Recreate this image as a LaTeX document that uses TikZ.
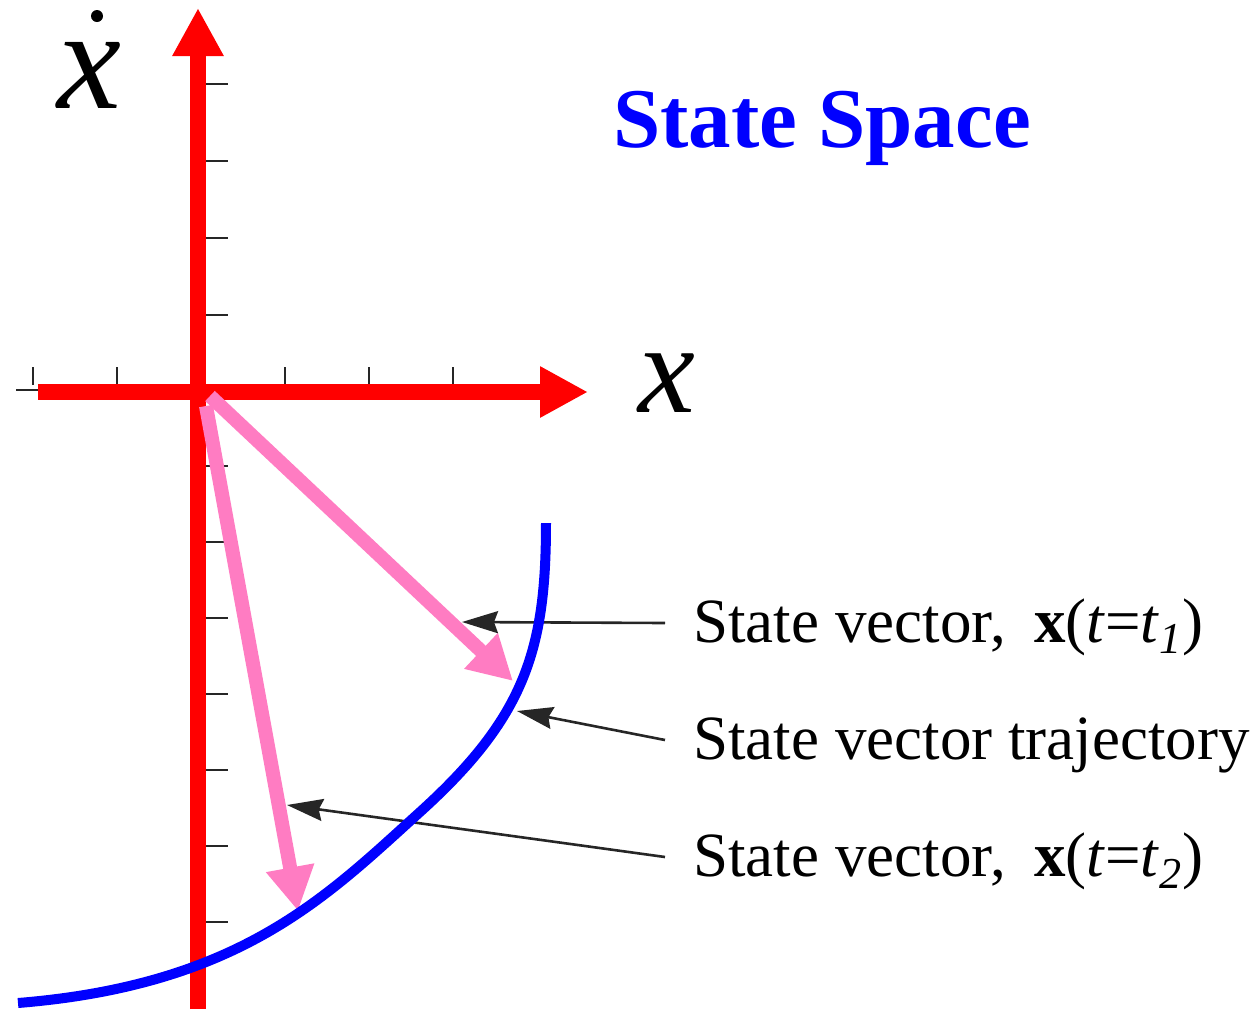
\documentclass[tikz,border=0pt]{standalone}
\usepackage{fontspec}
\setmainfont{Liberation Serif}
\usetikzlibrary{arrows.meta}
\definecolor{rouge}{RGB}{255,0,0}
\definecolor{rose}{RGB}{255,124,194}
\definecolor{bleu}{RGB}{0,0,255}

\begin{document}
\begin{tikzpicture}[x=0.5pt,y=-0.5pt,
  axe/.style={line width=8pt,rouge,-{Triangle[length=24pt,width=24pt]}},
  graduation/.style={line width=1.4pt,black!85},
  vecteur/.style={line width=7pt,rose,-{Triangle[length=22pt,width=23pt]}},
  fleche/.style={line width=1.3pt,black!85,-{Stealth[length=18pt,width=11pt,inset=2pt]}},
  legende/.style={anchor=base west,inner sep=0pt,font=\fontsize{31.5}{36}\selectfont}]
\useasboundingbox (0,0) rectangle (1255,1009);

%graduations
\foreach \x in {33,117,285,369,453} \draw[graduation] (\x,367) -- (\x,385);
\draw[graduation] (16,390) -- (38,390);
\foreach \y in {84,161,238,315,466,542,618,694,770,846,922} \draw[graduation] (206,\y) -- (228,\y);

%axes
\draw[axe] (38,392) -- (588,392);
\draw[axe] (198,1009) -- (198,8);
\node (xpt) [anchor=base,inner sep=0pt,text height=34pt,text depth=0pt] at (89,108) {\fontsize{72}{72}\selectfont\itshape x};
\fill (97,16) circle[radius=3pt]; %point de la derivee
\node (xlab) [anchor=base] at (667,412) {\fontsize{64}{64}\selectfont\itshape x};
\node (titre) [anchor=base,text=bleu,font=\fontsize{42.5}{48}\selectfont\bfseries] at (822,147) {State Space};

%vecteurs d'etat
\coordinate (d1) at (210,396);
\coordinate (d2) at (206,406);
\coordinate (p1) at (513,681);
\coordinate (p2) at (298,911);
\draw[vecteur] (d1) -- (p1);
\draw[vecteur] (d2) -- (p2);

%legendes
\node[legende] (l1) at (693,642) {State vector,\hspace{0.45em}\textbf{x}(\textit{t}=\textit{t}\textsubscript{\itshape 1})};
\node[legende] (l2) at (693,759) {State vector trajectory};
\node[legende] (l3) at (693,876) {State vector,\hspace{0.45em}\textbf{x}(\textit{t}=\textit{t}\textsubscript{\itshape 2})};
\coordinate (s1) at (665,623);
\coordinate (s2) at (665,740);
\coordinate (s3) at (665,857);
\coordinate (c1) at (462,622);
\coordinate (c2) at (517,711);
\coordinate (c3) at (287,805);
\draw[fleche] (s1) -- (c1);
\draw[fleche] (s2) -- (c2);
\draw[fleche] (s3) -- (c3);

%trajectoire
\draw[line width=5pt,bleu] (18,1003) .. controls (240,985) and (326,897) .. (420,812)
  .. controls (525,717) and (546,650) .. (546,523);

\end{tikzpicture}
\end{document}
